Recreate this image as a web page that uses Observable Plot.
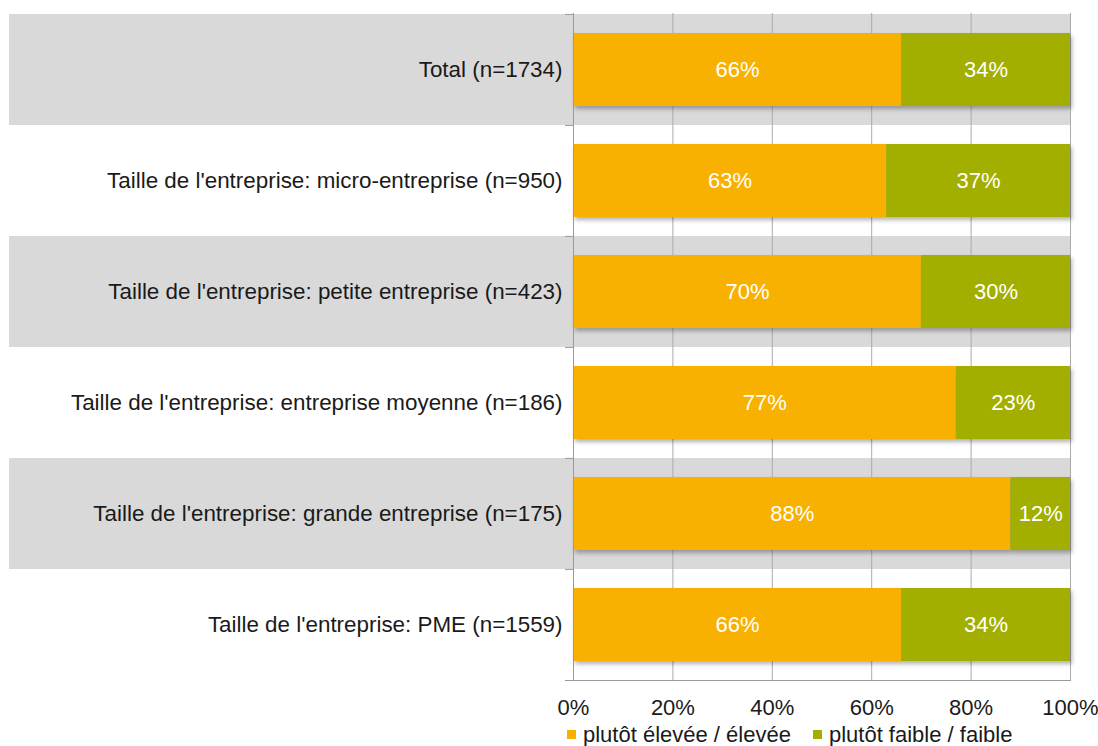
<!DOCTYPE html>
<html><head><meta charset="utf-8">
<script src="https://cdn.jsdelivr.net/npm/d3@7"></script>
<script src="https://cdn.jsdelivr.net/npm/@observablehq/plot@0.6"></script>
<style>
body{margin:0;background:#fff;font-family:"Liberation Sans",Arial,sans-serif;}
#chart{position:relative;width:1098px;height:746px;overflow:hidden;}
#chart svg{position:absolute;left:0;top:0;}
.legend{position:absolute;left:567px;top:722px;display:flex;align-items:center;font-size:22px;color:#1a1a1a;white-space:nowrap;line-height:25px;}
.legend .sw{display:inline-block;width:9px;height:9px;margin-right:7px;}
.legend .item{display:flex;align-items:center;margin-right:22px;}
</style></head><body><div id="chart"></div>
<script>
const categories = [
  "Total (n=1734)",
  "Taille de l'entreprise: micro-entreprise (n=950)",
  "Taille de l'entreprise: petite entreprise (n=423)",
  "Taille de l'entreprise: entreprise moyenne (n=186)",
  "Taille de l'entreprise: grande entreprise (n=175)",
  "Taille de l'entreprise: PME (n=1559)"
];
const eleveeValues = [66, 63, 70, 77, 88, 66];
const faibleValues = [34, 37, 30, 23, 12, 34];
const seriesNames = ["plutôt élevée / élevée", "plutôt faible / faible"];
const seriesColors = ["#f8b100", "#a3af00"];
const xTicks = [0, 20, 40, 60, 80, 100];
const bandedRows = categories.filter((d, i) => i % 2 === 0);

const data = categories.flatMap((c, i) => [
  {cat: c, series: seriesNames[0], value: eleveeValues[i]},
  {cat: c, series: seriesNames[1], value: faibleValues[i]}
]);

const W = 1098, H = 722;
const mTop = 13, mBottom = 42, mLeft = 573, mRight = 28;
const bandH = (H - mTop - mBottom) / categories.length;

function shadow(index, scales, values, dims, ctx, next) {
  const g = next(index, scales, values, dims, ctx);
  g.style.filter = "drop-shadow(2px 3px 2px rgba(0,0,0,0.3))";
  return g;
}

const plot = Plot.plot({
  width: W, height: H,
  marginTop: mTop, marginBottom: mBottom, marginLeft: mLeft, marginRight: mRight,
  style: {fontFamily: '"Liberation Sans", Arial, sans-serif', background: "transparent"},
  x: {domain: [0, 100], ticks: xTicks, tickFormat: d => d + "%", label: null},
  y: {domain: categories, padding: 0, label: null},
  color: {domain: seriesNames, range: seriesColors},
  marks: [
    Plot.barX(bandedRows, {y: d => d, x1: 0, x2: 100, fill: "#d9d9d9", insetLeft: -564}),
    Plot.ruleX(xTicks.slice(1), {stroke: "#ababab", strokeWidth: 1}),
    Plot.barX(data, Plot.stackX({x: "value", y: "cat", fill: "series", order: seriesNames, insetTop: 19, insetBottom: 19, render: shadow})),
    Plot.textX(data, Plot.stackX({x: "value", y: "cat", z: "series", order: seriesNames, text: d => d.value + "%", fill: "white", fontSize: 22})),
    Plot.ruleX([0], {stroke: "#9a9a9a"}),
    Plot.ruleY(categories, {y: d => d, x1: 0, x2: 0, insetLeft: -8, stroke: "#9a9a9a", dy: -bandH / 2}),
    Plot.frame({anchor: "bottom", stroke: "#9a9a9a", insetLeft: -8}),
    Plot.axisX({ticks: xTicks, tickFormat: d => d + "%", tickSize: 0, tickPadding: 19, fontSize: 22, fill: "#1a1a1a", label: null}),
    Plot.axisY({tickSize: 0, tickPadding: 11, fontSize: 22.4, fill: "#1a1a1a", label: null})
  ]
});

const chart = document.getElementById("chart");
chart.appendChild(plot);
const legend = document.createElement("div");
legend.className = "legend";
seriesNames.forEach((n, i) => {
  const it = document.createElement("span");
  it.className = "item";
  const sw = document.createElement("span");
  sw.className = "sw";
  sw.style.background = seriesColors[i];
  it.appendChild(sw);
  it.appendChild(document.createTextNode(n));
  legend.appendChild(it);
});
chart.appendChild(legend);
</script>
</body></html>
